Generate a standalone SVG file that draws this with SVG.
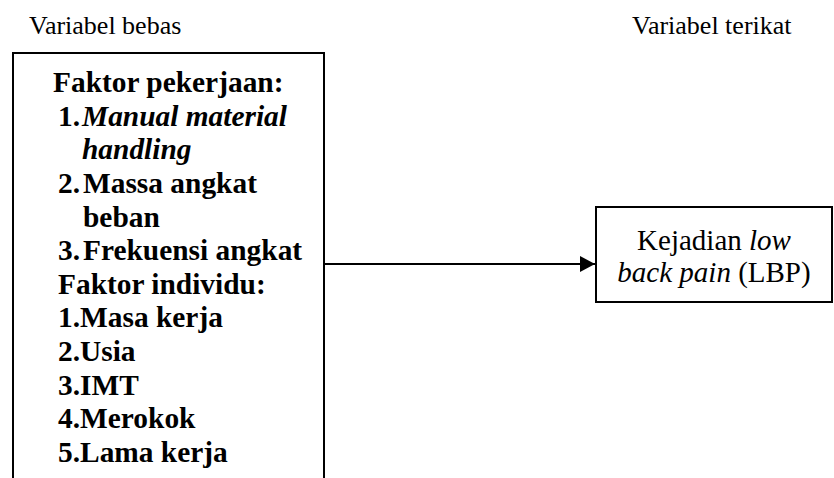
<svg xmlns="http://www.w3.org/2000/svg" width="834" height="478" viewBox="0 0 834 478">
<defs>
<style>
.hdr{font-family:"Liberation Serif","Times New Roman",serif;font-size:26px;fill:#000}
.b{font-family:"Liberation Serif","Times New Roman",serif;font-size:29.4px;font-weight:bold;fill:#000}
.r{font-family:"Liberation Serif","Times New Roman",serif;font-size:29px;fill:#000}
.i{font-style:italic}
.box{fill:#fff;stroke:#000;stroke-width:2}
.conn{stroke:#000;stroke-width:2;fill:none}
</style>
<marker id="ah" markerWidth="15" markerHeight="16" refX="15" refY="8" orient="auto" markerUnits="userSpaceOnUse">
<path d="M0,0 L15,8 L0,16 Z" fill="#000"/>
</marker>
</defs>
<rect width="834" height="478" fill="#fff"/>
<text class="hdr" x="29" y="34">Variabel bebas</text>
<text class="hdr" x="632" y="34">Variabel terikat</text>
<g id="node-bebas">
<path class="box" d="M13,480 L13,53 L324,53 L324,480"/>
<text class="b" x="53" y="92">Faktor pekerjaan:</text>
<text class="b" y="125.6"><tspan x="58">1.</tspan><tspan x="82" class="i">Manual material</tspan></text>
<text class="b i" x="82" y="159.3">handling</text>
<text class="b" y="192.9"><tspan x="58">2.</tspan><tspan x="83">Massa angkat</tspan></text>
<text class="b" x="83" y="226.5">beban</text>
<text class="b" y="260.1"><tspan x="58">3.</tspan><tspan x="83">Frekuensi angkat</tspan></text>
<text class="b" x="58" y="293.7">Faktor individu:</text>
<text class="b" x="58" y="327.3">1.Masa kerja</text>
<text class="b" x="58" y="360.9">2.Usia</text>
<text class="b" x="58" y="394.5">3.IMT</text>
<text class="b" x="58" y="428.1">4.Merokok</text>
<text class="b" x="58" y="461.7">5.Lama kerja</text>
</g>
<g id="node-terikat">
<rect class="box" x="596" y="207" width="236" height="95"/>
<text class="r" x="714" y="250" text-anchor="middle">Kejadian <tspan class="i">low</tspan></text>
<text class="r" x="714" y="282" text-anchor="middle"><tspan class="i">back pain</tspan> (LBP)</text>
</g>
<g id="connectors">
<line class="conn" x1="324" y1="264" x2="595" y2="264" marker-end="url(#ah)"/>
</g>
</svg>
